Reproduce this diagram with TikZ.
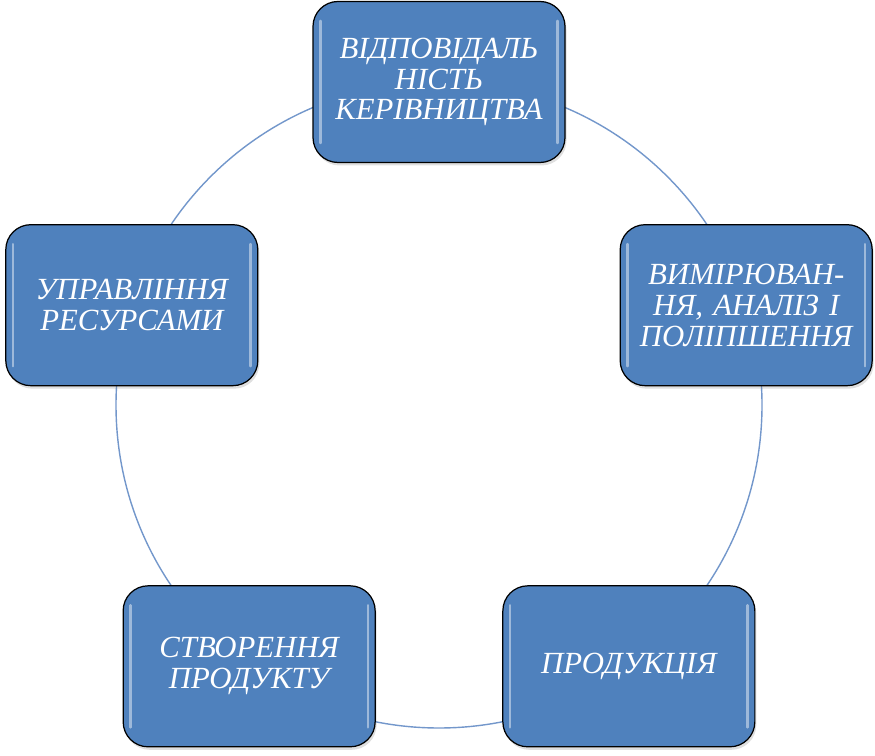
\documentclass[tikz,border=0pt]{standalone}
\usepackage{fontspec}
\setmainfont{Liberation Serif}
\usepackage{xcolor}
\usetikzlibrary{positioning,shadows}
\definecolor{boxblue}{HTML}{4F81BD}
\definecolor{ringblue}{HTML}{7397CB}

\begin{document}
\begin{tikzpicture}[
    stage/.style={draw=black, line width=0.7pt, fill=boxblue,
      rounded corners=0.5cm, minimum width=5.04cm, minimum height=3.22cm,
      text width=4.7cm, align=center, text=white,
      font=\itshape\fontsize{17.5}{17.6}\selectfont,
      drop shadow={opacity=0.25, shadow xshift=0.03cm, shadow yshift=-0.06cm}},
    ring/.style={ringblue, line width=0.8pt}]
  \useasboundingbox (0,0) rectangle (17.5,15.1);
  \coordinate (c) at (8.78,7.0);
  % the cycle behind the boxes
  \draw[ring] (c) circle (6.46);
  \node[stage] (lead)     at ([shift={(90:6.46)}]c)  {ВІДПОВІДАЛЬ\\НІСТЬ\\КЕРІВНИЦТВА};
  \node[stage] (measure)  at ([shift={(18:6.46)}]c)  {ВИМІРЮВАН-\\НЯ, АНАЛІЗ І\\ПОЛІПШЕННЯ};
  \node[stage] (product)  at ([shift={(-54:6.46)}]c) {ПРОДУКЦІЯ};
  \node[stage] (create)   at ([shift={(234:6.46)}]c) {СТВОРЕННЯ\\ПРОДУКТУ};
  \node[stage] (resource) at ([shift={(162:6.46)}]c) {УПРАВЛІННЯ\\РЕСУРСАМИ};
  % light glints on the sides
  \foreach \n in {lead,measure,product,create,resource}
    {\draw[white, opacity=0.45, line width=1.3pt, line cap=round]
       ([shift={(0.16,-0.4)}]\n.north west) -- ([shift={(0.16,0.4)}]\n.south west);
     \draw[white, opacity=0.45, line width=1.3pt, line cap=round]
       ([shift={(-0.16,-0.4)}]\n.north east) -- ([shift={(-0.16,0.4)}]\n.south east);}
\end{tikzpicture}
\end{document}
